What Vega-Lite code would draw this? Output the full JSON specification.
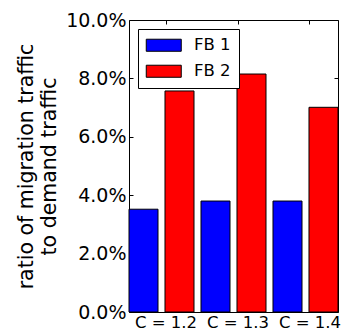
{
  "$schema": "https://vega.github.io/schema/vega-lite/v6.json",
  "autosize": {"type": "none"},
  "padding": {"left": 129, "top": 20, "right": 3, "bottom": 21},
  "width": 209,
  "height": 292,
  "data": {"values": [
    {"c": "C = 1.2", "series": "FB 1", "ratio": 0.0352},
    {"c": "C = 1.2", "series": "FB 2", "ratio": 0.0757},
    {"c": "C = 1.3", "series": "FB 1", "ratio": 0.0380},
    {"c": "C = 1.3", "series": "FB 2", "ratio": 0.0815},
    {"c": "C = 1.4", "series": "FB 1", "ratio": 0.0380},
    {"c": "C = 1.4", "series": "FB 2", "ratio": 0.0701}
  ]},
  "config": {
    "font": "DejaVu Sans",
    "view": {"stroke": "black", "strokeWidth": 1},
    "axis": {"domain": false, "grid": false, "labelColor": "black", "tickColor": "black", "titleColor": "black", "labelFont": "DejaVu Sans", "titleFont": "DejaVu Sans"}
  },
  "layer": [
    {
      "mark": {"type": "bar", "stroke": "black", "strokeWidth": 1},
      "encoding": {
        "x": {"field": "c", "type": "nominal", "scale": {"paddingInner": 0.097, "paddingOuter": 0},
              "axis": {"title": null, "labelAngle": 0, "labelFontSize": 16.5, "labelPadding": 2, "ticks": false, "tickOffset": 4}},
        "xOffset": {"field": "series", "type": "nominal", "scale": {"paddingInner": 0.194, "paddingOuter": 0}},
        "y": {"field": "ratio", "type": "quantitative", "scale": {"domain": [0, 0.1]},
              "axis": {"title": ["ratio of migration traffic", "to demand traffic"], "titleFontSize": 20.5, "titleFontWeight": "normal", "titleLineHeight": 23.5, "titlePadding": 6,
                       "format": ".1%", "values": [0, 0.02, 0.04, 0.06, 0.08, 0.1], "labelFontSize": 19, "tickSize": -4, "labelPadding": 7}},
        "color": {"field": "series", "type": "nominal",
                  "scale": {"domain": ["FB 1", "FB 2"], "range": ["#0000ff", "#ff0000"]},
                  "legend": {"title": null, "orient": "top-left", "offset": 9, "padding": 8, "strokeColor": "black", "fillColor": "white", "cornerRadius": 0,
                             "symbolType": "M-2.5,-0.86L2.5,-0.86L2.5,0.86L-2.5,0.86Z", "symbolSize": 196, "symbolStrokeColor": "black", "symbolStrokeWidth": 1, "symbolOpacity": 1,
                             "symbolOffset": 9.5, "labelOffset": 22, "labelFontSize": 16.5, "labelColor": "black", "rowPadding": 9}}
      }
    },
    {
      "mark": {"type": "bar", "opacity": 0},
      "encoding": {
        "x": {"field": "c", "type": "nominal", "axis": {"orient": "top", "title": null, "labels": false, "tickSize": -4, "tickOffset": 4}},
        "xOffset": {"field": "series", "type": "nominal"},
        "y": {"field": "ratio", "type": "quantitative", "axis": {"orient": "right", "title": null, "labels": false, "tickSize": -4, "values": [0, 0.02, 0.04, 0.06, 0.08, 0.1]}}
      }
    }
  ],
  "resolve": {"axis": {"x": "independent", "y": "independent"}}
}
